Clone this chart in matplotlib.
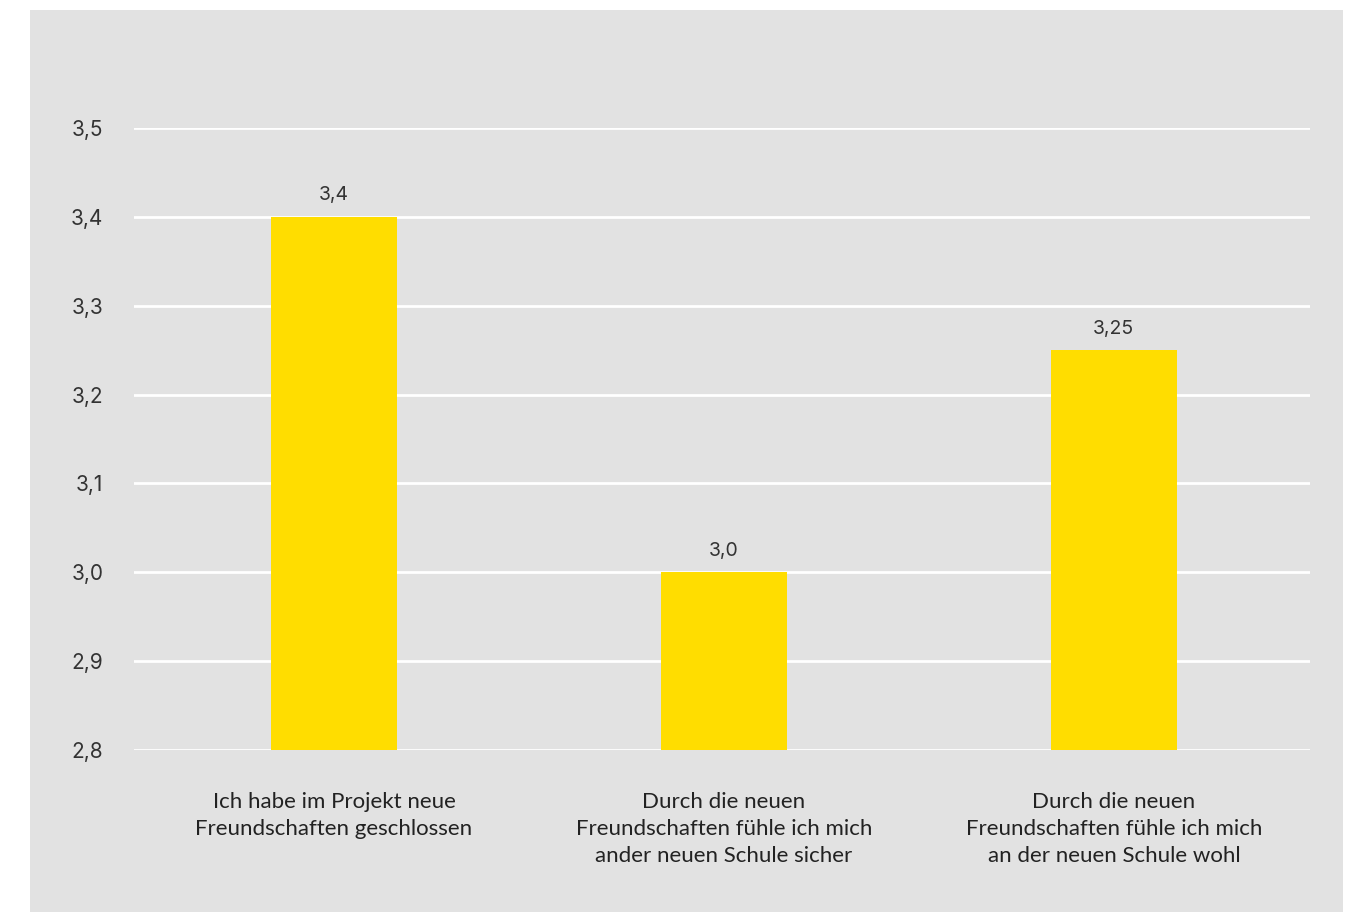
import matplotlib
matplotlib.use('Agg')
from matplotlib import pyplot as plt
from matplotlib.patches import Rectangle

categories = [
    'Ich habe im Projekt neue\nFreundschaften geschlossen',
    'Durch die neuen\nFreundschaften fühle ich mich\nander neuen Schule sicher',
    'Durch die neuen\nFreundschaften fühle ich mich\nan der neuen Schule wohl',
]
values = [3.4, 3.0, 3.25]
value_labels = ['3,4', '3,0', '3,25']
yticks = [2.8, 2.9, 3.0, 3.1, 3.2, 3.3, 3.4, 3.5]
ytick_labels = ['2,8', '2,9', '3,0', '3,1', '3,2', '3,3', '3,4', '3,5']

W, H = 1360, 914
fig = plt.figure(figsize=(W / 100, H / 100), dpi=100)
fig.patch.set_facecolor('white')

# grey panel behind the chart
fig.patches.append(Rectangle((30 / W, 2 / H), (1343 - 30) / W, (912 - 10) / H,
                             transform=fig.transFigure, facecolor='#e2e2e2',
                             edgecolor='none', zorder=-5))

ax = fig.add_axes([134 / W, (H - 750) / H, (1310 - 134) / W, (750 - 128) / H])
ax.set_facecolor('none')
ax.set_zorder(2)

x = range(len(categories))
ax.bar(x, [v - 2.8 for v in values], bottom=2.8, width=0.323,
       color='#ffdd00', zorder=3)

for xi, v, lab in zip(x, values, value_labels):
    ax.annotate(lab, (xi, v), xytext=(0, 9), textcoords='offset points',
                ha='center', va='bottom', fontsize=14, color='#333333',
                family='Inter')

ax.set_xlim(-0.513, 2.503)
ax.set_ylim(2.8, 3.5)
ax.set_yticks(yticks)
ax.set_yticklabels(ytick_labels, fontsize=15, color='#333333', family='Inter')
ax.tick_params(axis='y', length=0, pad=22)
ax.grid(axis='y', color='white', linewidth=2, zorder=1)
ax.set_axisbelow(True)

ax.set_xticks(list(x))
ax.set_xticklabels(categories, fontsize=16, color='#222222', family='Lato',
                   linespacing=1.45)
ax.tick_params(axis='x', length=0, pad=30)

for s in ax.spines.values():
    s.set_visible(False)

fig.savefig('out.png', dpi=100)
